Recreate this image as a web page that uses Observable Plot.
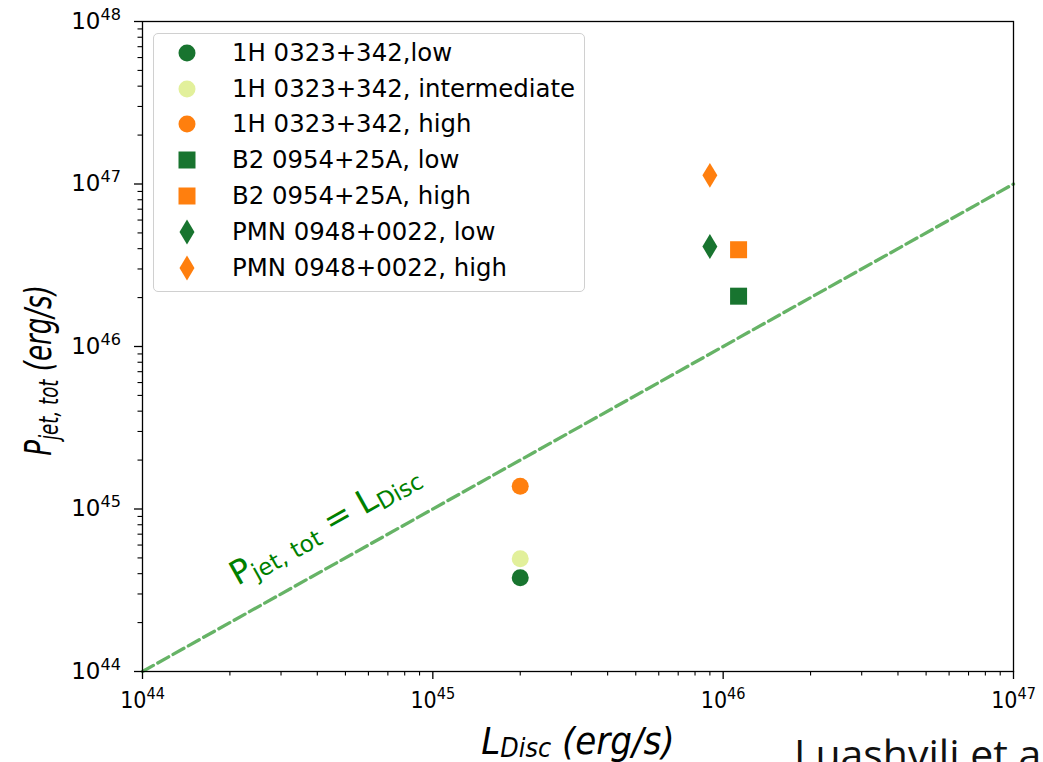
<!DOCTYPE html>
<html><head><meta charset="utf-8">
<script src="https://cdn.jsdelivr.net/npm/d3@7"></script>
<script src="https://cdn.jsdelivr.net/npm/@observablehq/plot@0.6"></script>
<style>
html,body{margin:0;padding:0;background:#fff;overflow:hidden;}
#wrap{position:relative;width:1043px;height:762px;overflow:hidden;background:#fff;}
#wrap svg{position:absolute;left:0;top:0;}
#legend{position:absolute;left:153px;top:33px;width:432px;height:259px;border:1.5px solid #d0d0d0;border-radius:5px;background:rgba(255,255,255,0.8);font-family:"DejaVu Sans";font-size:24.4px;color:#000;box-sizing:border-box;}
#legend .row{position:absolute;left:0;height:36px;line-height:36px;white-space:nowrap;}
#legend .row svg{position:absolute;left:18px;top:3px;}
#legend .row span{position:absolute;left:78px;top:0;}
#credit{position:absolute;left:794px;top:733px;font-family:"Open Sans";font-size:41px;line-height:1;white-space:nowrap;color:#111;}
</style></head><body><div id="wrap"></div>
<script>
// ---- data ----
const sources = ["1H 0323+342","1H 0323+342","1H 0323+342","B2 0954+25A","B2 0954+25A","PMN 0948+0022","PMN 0948+0022"];
const states = ["low","intermediate","high","low","high","low","high"];
const legendLabels = ["1H 0323+342,low","1H 0323+342, intermediate","1H 0323+342, high","B2 0954+25A, low","B2 0954+25A, high","PMN 0948+0022, low","PMN 0948+0022, high"];
const lDisc = [2.0e45, 2.0e45, 2.0e45, 1.13e46, 1.13e46, 9.0e45, 9.0e45];
const pJet = [3.77e44, 4.94e44, 1.38e45, 2.04e46, 3.94e46, 4.12e46, 1.13e47];
const xMajor = [1e44, 1e45, 1e46, 1e47];
const yMajor = [1e44, 1e45, 1e46, 1e47, 1e48];
const equality = [1e44, 1e47];
const annotX = [4.25e44];
const annotY = [8.0e44];
const annotText = ["P_{jet, tot} = L_{Disc}"];
const xLabel = "L_{Disc} (erg/s)";
const yLabel = "P_{jet, tot} (erg/s)";
const credit = "Luashvili et al.";

const stateOrder = ["low","intermediate","high"];
const stateColors = ["#18742f","#e2f09b","#ff7f0e"];
const shapeOf = {"1H 0323+342":"circle","B2 0954+25A":"square","PMN 0948+0022":"diamond"};

function minorTicks(lo, hi){
  const out = [];
  for (let e = lo; e < hi; e++) for (let m = 2; m <= 9; m++) out.push(m * Math.pow(10, e));
  return out;
}
const xMinor = minorTicks(44, 47);
const yMinor = minorTicks(44, 48);

function sym(kind){
  return {draw(ctx, size){
    const r = Math.sqrt(size / Math.PI);
    if (kind === "circle") { ctx.moveTo(r, 0); ctx.arc(0, 0, r, 0, 2 * Math.PI); }
    else if (kind === "square") { ctx.rect(-r, -r, 2 * r, 2 * r); }
    else { const w = r * 0.88, h = r * 1.47; ctx.moveTo(0, -h); ctx.lineTo(w, 0); ctx.lineTo(0, h); ctx.lineTo(-w, 0); ctx.closePath(); }
  }};
}

const data = lDisc.map((x, i) => ({x, y: pJet[i], source: sources[i], state: states[i]}));
const annotation = annotX.map((x, i) => ({x, y: annotY[i], text: annotText[i]}));
const pow = d => `10^{${Math.round(Math.log10(d))}}`;
const R = 8.5;

const svg = Plot.plot({
  width: 1043, height: 762,
  marginLeft: 142, marginRight: 30, marginTop: 21, marginBottom: 91,
  style: {background: "transparent", fontFamily: "DejaVu Sans", color: "#000", overflow: "visible"},
  x: {type: "log", domain: [1e44, 1e47]},
  y: {type: "log", domain: [1e44, 1e48]},
  color: {domain: stateOrder, range: stateColors},
  marks: [
    Plot.line(equality, {x: d => d, y: d => d, stroke: "#66b366", strokeWidth: 3.3, strokeDasharray: "12.5,5"}),
    Plot.text(annotation, {x: "x", y: "y", text: "text", rotate: -29.3, fill: "#008000", fontSize: 33, fontFamily: "DejaVu Sans", textAnchor: "middle", lineAnchor: "middle"}),
    ...["circle", "square", "diamond"].map(s =>
      Plot.dot(data, {filter: d => shapeOf[d.source] === s, x: "x", y: "y", fill: "state", r: R, symbol: sym(s)})),
    Plot.axisX(xMinor, {tickSize: 4.5, strokeWidth: 1.1, tickFormat: () => "", label: null}),
    Plot.axisX(xMajor, {tickSize: 8, strokeWidth: 1.3, tickPadding: 12, fontSize: 23, fontFamily: "DejaVu Sans Condensed", tickFormat: pow, label: null}),
    Plot.axisY(yMinor, {tickSize: 4.5, strokeWidth: 1.1, tickFormat: () => "", label: null}),
    Plot.axisY(yMajor, {tickSize: 8, strokeWidth: 1.3, tickPadding: 13.5, fontSize: 23, fontFamily: "DejaVu Sans", tickFormat: pow, label: null}),
    Plot.frame({stroke: "#000", strokeWidth: 1.3}),
    Plot.text([xLabel], {frameAnchor: "bottom", dy: 70, fontSize: 38, fontStyle: "italic", fontFamily: "DejaVu Sans Condensed", textAnchor: "middle", lineAnchor: "middle", fill: "#000"}),
    Plot.text([yLabel], {frameAnchor: "left", rotate: -90, dx: -104, dy: 24, fontSize: 29, fontStyle: "italic", fontFamily: "DejaVu Sans Condensed", textAnchor: "middle", lineAnchor: "middle", fill: "#000"})
  ]
});

// rich text: ^{..} superscript, _{..} subscript
const SVGNS = "http://www.w3.org/2000/svg";
function richText(el, str, raise, drop){
  el.textContent = "";
  const re = /\^\{([^}]*)\}|_\{([^}]*)\}|([^^_]+)/g;
  let m, shift = 0;
  while ((m = re.exec(str))) {
    const t = document.createElementNS(SVGNS, "tspan");
    let target, small = false, txt;
    if (m[1] !== undefined) { target = -raise; small = true; txt = m[1]; }
    else if (m[2] !== undefined) { target = drop; small = true; txt = m[2]; }
    else { target = 0; txt = m[3]; }
    const delta = target - shift;
    if (small) { t.setAttribute("font-size", "70%"); if (delta) t.setAttribute("dy", (delta / 0.7).toFixed(3) + "em"); }
    else if (delta) t.setAttribute("dy", delta.toFixed(3) + "em");
    t.textContent = txt;
    el.appendChild(t);
    shift = target;
  }
}
svg.querySelectorAll("text").forEach(el => {
  const s = el.textContent;
  if (!/[\^_]\{/.test(s)) return;
  if (s.startsWith("10^")) richText(el, s, 0.4, 0);
  else if (s === yLabel) {
    richText(el, s, 0.4, 0.2);
    const tr = el.getAttribute("transform") || "";
    el.setAttribute("transform", tr + " scale(1,1.3)");
  }
  else if (s === xLabel) richText(el, s, 0.4, 0.1);
  else richText(el, s, 0.4, 0.15);
});

const wrap = document.getElementById("wrap");
wrap.appendChild(svg);

// legend (HTML overlay)
const legend = document.createElement("div");
legend.id = "legend";
legendLabels.forEach((lab, i) => {
  const row = document.createElement("div");
  row.className = "row";
  row.style.top = (0.8 + i * 35.83) + "px";
  const s = document.createElementNS(SVGNS, "svg");
  s.setAttribute("width", 30); s.setAttribute("height", 30);
  const p = document.createElementNS(SVGNS, "path");
  const path = d3.path();
  sym(shapeOf[sources[i]]).draw(path, R * R * Math.PI);
  p.setAttribute("d", path.toString());
  p.setAttribute("transform", "translate(15,15)");
  p.setAttribute("fill", stateColors[stateOrder.indexOf(states[i])]);
  s.appendChild(p);
  const span = document.createElement("span");
  span.textContent = lab;
  row.appendChild(s); row.appendChild(span);
  legend.appendChild(row);
});
wrap.appendChild(legend);

const c = document.createElement("div");
c.id = "credit";
c.textContent = credit;
wrap.appendChild(c);
</script></body></html>
